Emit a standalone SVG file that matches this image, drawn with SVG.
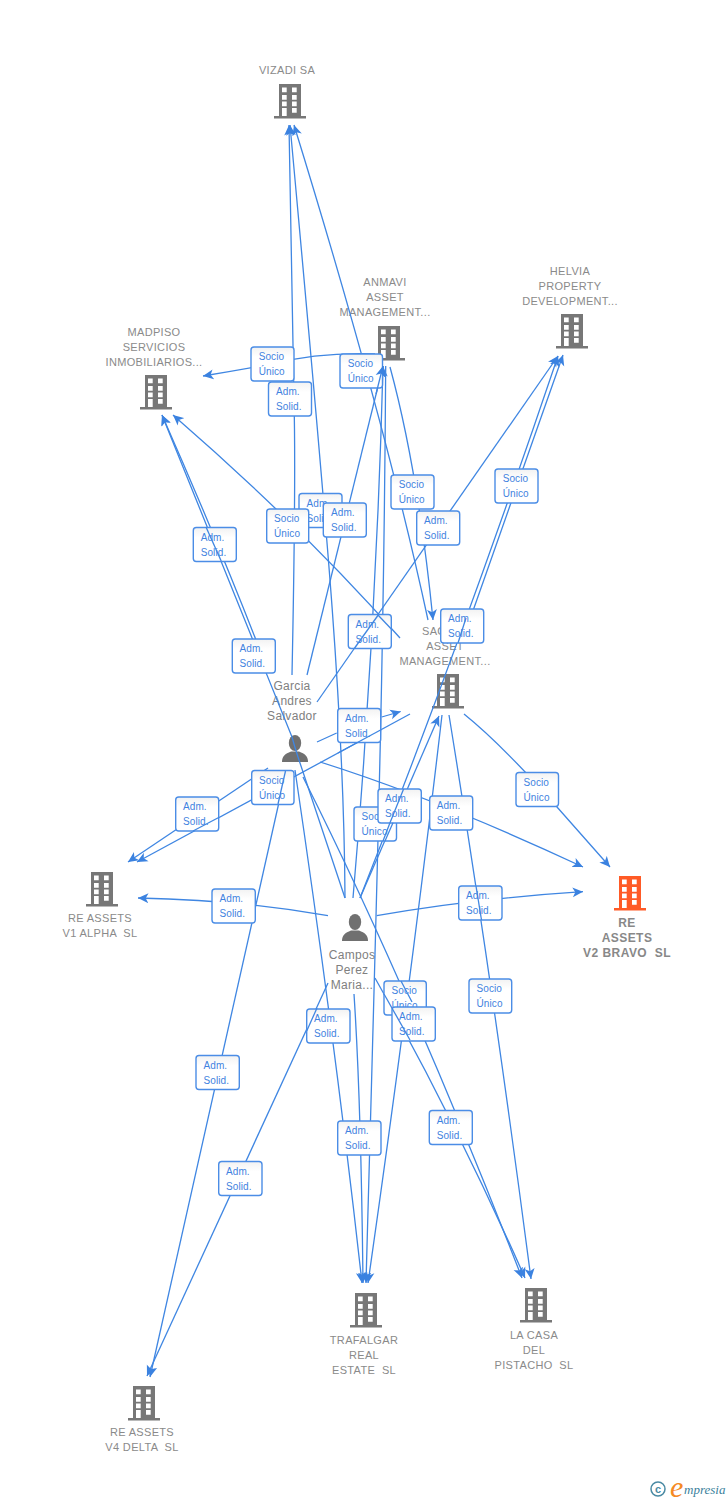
<svg xmlns="http://www.w3.org/2000/svg" width="728" height="1500" viewBox="0 0 728 1500">
<style>
text{font-family:"Liberation Sans",Arial,sans-serif}
.n{font-size:11px;fill:#8a8a8a;text-anchor:middle;white-space:pre;letter-spacing:.33px}
.p{font-size:12px;fill:#808080;text-anchor:middle;letter-spacing:.3px}
.b{font-size:12px;font-weight:bold;fill:#888;text-anchor:middle;white-space:pre;letter-spacing:.45px}
.c path{fill:none;stroke:#3f86e2;stroke-width:1.3;stroke-linejoin:round}
.c .a{marker-end:url(#ah)}
.l rect{fill:url(#lg);stroke:#4b8de6;stroke-width:1.4}
.l text{font-size:10px;fill:#3f82e0;letter-spacing:.1px}
</style>
<defs>
<marker id="ah" markerUnits="userSpaceOnUse" markerWidth="11" markerHeight="11" viewBox="0 0 10 10" refX="9.5" refY="5" orient="auto"><path d="M0,.5L9.5,5L0,9.5L2.500,5Z" fill="#3b82e0"/></marker>
<linearGradient id="lg" x1="0" y1="0" x2="0" y2="1"><stop offset="0" stop-color="#f2f2f2"/><stop offset=".3" stop-color="#fff"/></linearGradient>
<g id="bld"><path d="M-11,-17H11V15H16V17.500H-16V15H-11Z"/><path fill="#fff" d="M-8,-13.500h4.700v4.700h-4.700zM2,-13.500h4.700v4.700h-4.700zM-8,-6h4.700v4.700h-4.700zM2,-6h4.700v4.700h-4.700zM-8,.5h4.700v4.700h-4.700zM2,.5h4.700v4.700h-4.700zM-8,7h4.700v8h-4.700zM2,7h4.700v4.700h-4.700z"/></g>
<g id="per"><ellipse cx="0" cy="-6" rx="6.200" ry="8"/><path d="M-13,13C-13,7 -10,5 -4,2.500L4,2.500C10,5 13,7 13,13Z"/></g>
</defs>
<rect width="728" height="1500" fill="#fff"/>
<g id="nodes">
<g id="n-vizadi"><use href="#bld" x="290" y="101" fill="#777"/><text class="n" x="287" y="74">VIZADI SA</text></g>
<g id="n-anmavi"><use href="#bld" x="389" y="343" fill="#777"/><text class="n"><tspan x="385" y="286">ANMAVI</tspan><tspan x="385" y="301">ASSET</tspan><tspan x="385" y="316">MANAGEMENT...</tspan></text></g>
<g id="n-helvia"><use href="#bld" x="572" y="331" fill="#777"/><text class="n"><tspan x="570" y="275">HELVIA</tspan><tspan x="570" y="290">PROPERTY</tspan><tspan x="570" y="305">DEVELOPMENT...</tspan></text></g>
<g id="n-madpiso"><use href="#bld" x="156" y="392" fill="#777"/><text class="n"><tspan x="154" y="336">MADPISO</tspan><tspan x="154" y="351">SERVICIOS</tspan><tspan x="154" y="366">INMOBILIARIOS...</tspan></text></g>
<g id="n-sac"><use href="#bld" x="448" y="691" fill="#777"/><text class="n"><tspan x="422" y="635" text-anchor="start">SAC</tspan><tspan x="445" y="650">ASSET</tspan><tspan x="445" y="665">MANAGEMENT...</tspan></text></g>
<g id="n-garcia"><use href="#per" x="295" y="749" fill="#707070"/><text class="p"><tspan x="292" y="690">Garcia</tspan><tspan x="292" y="705">Andres</tspan><tspan x="292" y="720">Salvador</tspan></text></g>
<g id="n-campos"><use href="#per" x="355" y="928" fill="#707070"/><text class="p"><tspan x="352" y="959">Campos</tspan><tspan x="352" y="974">Perez</tspan><tspan x="352" y="989">Maria...</tspan></text></g>
<g id="n-v1"><use href="#bld" x="102" y="889" fill="#777"/><text class="n"><tspan x="100" y="922">RE ASSETS</tspan><tspan x="100" y="937">V1 ALPHA  SL</tspan></text></g>
<g id="n-v2"><use href="#bld" x="630" y="893" fill="#ff5a26"/><text class="b"><tspan x="627" y="927">RE</tspan><tspan x="627" y="942">ASSETS</tspan><tspan x="627" y="957">V2 BRAVO  SL</tspan></text></g>
<g id="n-v4"><use href="#bld" x="144" y="1403" fill="#777"/><text class="n"><tspan x="142" y="1436">RE ASSETS</tspan><tspan x="142" y="1451">V4 DELTA  SL</tspan></text></g>
<g id="n-trafalgar"><use href="#bld" x="366" y="1310" fill="#777"/><text class="n"><tspan x="364" y="1344">TRAFALGAR</tspan><tspan x="364" y="1359">REAL</tspan><tspan x="364" y="1374">ESTATE  SL</tspan></text></g>
<g id="n-lacasa"><use href="#bld" x="536" y="1305" fill="#777"/><text class="n"><tspan x="534" y="1339">LA CASA</tspan><tspan x="534" y="1354">DEL</tspan><tspan x="534" y="1369">PISTACHO  SL</tspan></text></g>
</g>
<g id="connectors" class="c">
<path class="a" d="M292,675Q296,480 294,400Q292,300 289,125"/>
<path class="a" d="M345,898C344,720 330,560 290,125"/>
<path class="a" d="M428,620Q385,420 294,125"/>
<path class="a" d="M390,367Q418,470 433,620"/>
<path class="a" d="M317,702L558,356"/>
<path class="a" d="M400,638Q302,527 173,415"/>
<path class="a" d="M307,675L383,366"/>
<path class="a" d="M353,898Q376,632 383,366"/>
<path class="a" d="M385.700,366C384,650 378,850 366,1283"/>
<path class="a" d="M317,742L336.700,733M381.700,717L400.700,711.500"/>
<path class="a" d="M256,640Q215,535 162,415"/>
<path class="a" d="M345,898L298,757Q295,748 292,737L162,415"/>
<path class="a" d="M295,770Q335,1040 362,1283"/>
<path class="a" d="M303,777Q410,990 522,1278"/>
<path class="a" d="M375,978Q455,1120 525,1278"/>
<path class="a" d="M449,715Q492,980 531,1279"/>
<path class="a" d="M464,714C490,735 520,765 557,807L610,867"/>
<path class="a" d="M320,762Q440,800 583,867"/>
<path class="a" d="M376.700,915.700Q470,899 583,891.700"/>
<path class="a" d="M328,915.700Q240,900 138,898"/>
<path class="a" d="M268,768L128,862"/>
<path class="a" d="M410,714L137,862"/>
<path class="a" d="M286,771L150,1377"/>
<path class="a" d="M328,983L147,1376"/>
<path class="a" d="M354,994Q361,1100 363,1283"/>
<path class="a" d="M442,715Q410,990 368,1283"/>
<path class="a" d="M360,898L439,716"/>
<path class="a" d="M360,898Q462,640 558,356"/>
<path class="a" d="M468,625L563,355"/>
<path class="a" d="M375,354Q320,352 272,364Q240,370 203,376"/>
</g>
<g id="labels" class="l">
<g id="l01"><rect x="251" y="347" width="43" height="34" rx="3"/><text><tspan x="258.700" y="360">Socio</tspan><tspan x="258.700" y="375">Único</tspan></text></g>
<g id="l02"><rect x="268.500" y="382" width="43" height="34" rx="3"/><text><tspan x="276" y="395">Adm.</tspan><tspan x="276" y="410">Solid.</tspan></text></g>
<g id="l03"><rect x="340" y="354" width="42.500" height="34" rx="3"/><text><tspan x="347.700" y="367">Socio</tspan><tspan x="347.700" y="382">Único</tspan></text></g>
<g id="l04"><rect x="299" y="493.500" width="43" height="34" rx="3"/><text><tspan x="306.500" y="506.500">Adm.</tspan><tspan x="306.500" y="521.500">Solid.</tspan></text></g>
<g id="l05"><rect x="266.700" y="509" width="42" height="34" rx="3"/><text><tspan x="274" y="522">Socio</tspan><tspan x="274" y="537">Único</tspan></text></g>
<g id="l06"><rect x="323.300" y="503" width="43" height="34" rx="3"/><text><tspan x="331" y="516">Adm.</tspan><tspan x="331" y="531">Solid.</tspan></text></g>
<g id="l07"><rect x="391" y="475" width="43" height="34" rx="3"/><text><tspan x="398.700" y="488">Socio</tspan><tspan x="398.700" y="503">Único</tspan></text></g>
<g id="l08"><rect x="416.700" y="511" width="43" height="34" rx="3"/><text><tspan x="424" y="524">Adm.</tspan><tspan x="424" y="539">Solid.</tspan></text></g>
<g id="l09"><rect x="495" y="469" width="43" height="34" rx="3"/><text><tspan x="502.700" y="482">Socio</tspan><tspan x="502.700" y="497">Único</tspan></text></g>
<g id="l10"><rect x="193.300" y="527.500" width="43" height="34" rx="3"/><text><tspan x="200.700" y="540.500">Adm.</tspan><tspan x="200.700" y="555.500">Solid.</tspan></text></g>
<g id="l11"><rect x="232.300" y="639" width="43" height="34" rx="3"/><text><tspan x="239.500" y="652">Adm.</tspan><tspan x="239.500" y="667">Solid.</tspan></text></g>
<g id="l12"><rect x="348.300" y="614.500" width="43" height="34" rx="3"/><text><tspan x="355.500" y="627.500">Adm.</tspan><tspan x="355.500" y="642.500">Solid.</tspan></text></g>
<g id="l13"><rect x="440.700" y="609" width="43" height="34" rx="3"/><text><tspan x="448" y="622">Adm.</tspan><tspan x="448" y="637">Solid.</tspan></text></g>
<g id="l14"><rect x="337.700" y="708.500" width="43" height="34" rx="3"/><text><tspan x="345" y="721.500">Adm.</tspan><tspan x="345" y="736.500">Solid.</tspan></text></g>
<g id="l15"><rect x="516" y="772.500" width="42.500" height="34" rx="3"/><text><tspan x="523.500" y="785.500">Socio</tspan><tspan x="523.500" y="800.500">Único</tspan></text></g>
<g id="l16"><rect x="251.700" y="770.500" width="42.300" height="34" rx="3"/><text><tspan x="259" y="783.500">Socio</tspan><tspan x="259" y="798.500">Único</tspan></text></g>
<g id="l17"><rect x="175.700" y="797" width="43" height="34" rx="3"/><text><tspan x="183" y="810">Adm.</tspan><tspan x="183" y="825">Solid.</tspan></text></g>
<g id="l18"><rect x="354" y="807" width="42.500" height="34" rx="3"/><text><tspan x="361.500" y="820">Socio</tspan><tspan x="361.500" y="835">Único</tspan></text></g>
<g id="l19"><rect x="378" y="789" width="43.300" height="34" rx="3"/><text><tspan x="385" y="802">Adm.</tspan><tspan x="385" y="817">Solid.</tspan></text></g>
<g id="l20"><rect x="429.700" y="796" width="43" height="34" rx="3"/><text><tspan x="436.700" y="809">Adm.</tspan><tspan x="436.700" y="824">Solid.</tspan></text></g>
<g id="l21"><rect x="212" y="889" width="43.300" height="34" rx="3"/><text><tspan x="219.500" y="902">Adm.</tspan><tspan x="219.500" y="917">Solid.</tspan></text></g>
<g id="l22"><rect x="458.700" y="886" width="43.300" height="34" rx="3"/><text><tspan x="466" y="899">Adm.</tspan><tspan x="466" y="914">Solid.</tspan></text></g>
<g id="l23"><rect x="469" y="979" width="42.700" height="34" rx="3"/><text><tspan x="476.500" y="992">Socio</tspan><tspan x="476.500" y="1007">Único</tspan></text></g>
<g id="l24"><rect x="384" y="981" width="42.300" height="34" rx="3"/><text><tspan x="391.500" y="994">Socio</tspan><tspan x="391.500" y="1009">Único</tspan></text></g>
<g id="l25"><rect x="392" y="1007" width="43.300" height="34" rx="3"/><text><tspan x="399" y="1020">Adm.</tspan><tspan x="399" y="1035">Solid.</tspan></text></g>
<g id="l26"><rect x="306.700" y="1009" width="43.300" height="34" rx="3"/><text><tspan x="314" y="1022">Adm.</tspan><tspan x="314" y="1037">Solid.</tspan></text></g>
<g id="l27"><rect x="196" y="1055.500" width="43.300" height="34" rx="3"/><text><tspan x="203.500" y="1068.500">Adm.</tspan><tspan x="203.500" y="1083.500">Solid.</tspan></text></g>
<g id="l28"><rect x="218.700" y="1161.500" width="43.300" height="34" rx="3"/><text><tspan x="226" y="1174.500">Adm.</tspan><tspan x="226" y="1189.500">Solid.</tspan></text></g>
<g id="l29"><rect x="337.700" y="1121" width="43.300" height="34" rx="3"/><text><tspan x="345" y="1134">Adm.</tspan><tspan x="345" y="1149">Solid.</tspan></text></g>
<g id="l30"><rect x="429.300" y="1110.500" width="43" height="34" rx="3"/><text><tspan x="436.700" y="1123.500">Adm.</tspan><tspan x="436.700" y="1138.500">Solid.</tspan></text></g>
</g>
<g id="connectors-over" class="c">
<path d="M206,527L221.200,561"/>
<path d="M378.600,614.500L354.300,648.500"/>
<path d="M377.500,614.500L391.300,629"/>
<path d="M285.500,771L278,804"/>
<path d="M381,729.700L338,753"/>
<path d="M218.700,817.500L193,831"/>
<path d="M403.600,789L390,822.700L383,841"/>
<path d="M393,822.700L385,841"/>
<path d="M401,981L412,1002"/>
<path d="M384,994L410,1040"/>
<path d="M466,618L458,643"/>
<path d="M476,886L481.500,920"/>
<path d="M317,1008L306.700,1031"/>
<path class="a" d="M376,394L383,366"/>
</g>
<g id="logo">
<circle cx="658" cy="1489" r="7" fill="none" stroke="#4a8aa3" stroke-width="1.500"/>
<text x="658" y="1493" font-size="11" font-weight="bold" fill="#4a8aa3" text-anchor="middle">c</text>
<text x="670" y="1497" font-size="30" font-style="italic" fill="#f58a23" style="font-family:'Liberation Serif',serif">e</text>
<text x="684" y="1494" font-size="13" font-style="italic" fill="#3b7f9c" style="font-family:'Liberation Serif',serif">mpresia</text>
</g>
</svg>
